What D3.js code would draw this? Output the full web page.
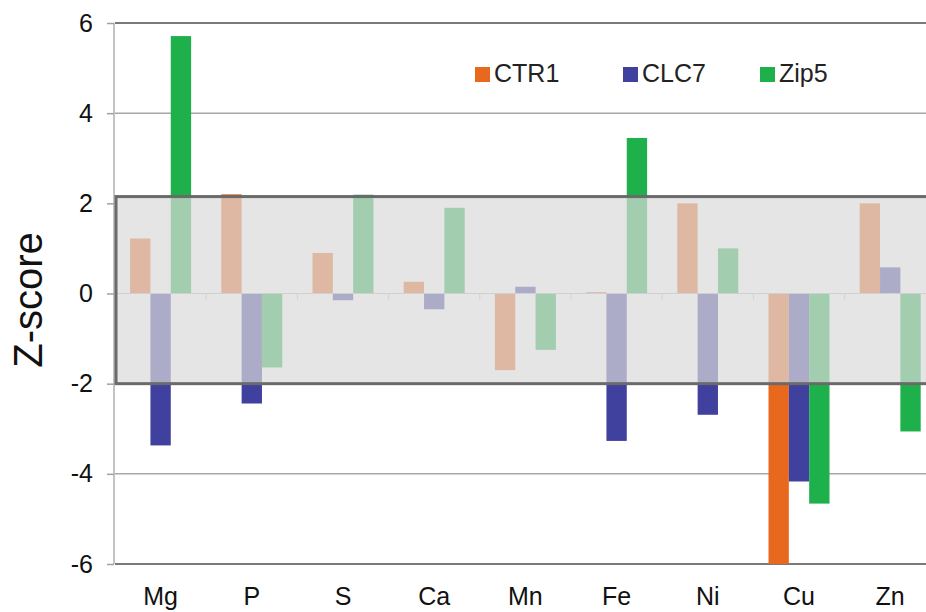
<!DOCTYPE html>
<html>
<head>
<meta charset="utf-8">
<script src="https://cdn.jsdelivr.net/npm/d3@7"></script>
<style>
  html, body { margin: 0; padding: 0; background: #fff; }
  svg { display: block; font-family: Arial, "Liberation Sans", sans-serif; }
</style>
</head>
<body>
<svg id="chart" width="926" height="612"></svg>
<script>
// ---- data ----
const categories = ["Mg", "P", "S", "Ca", "Mn", "Fe", "Ni", "Cu", "Zn"];
const seriesNames = ["CTR1", "CLC7", "Zip5"];
const ctr1 = [1.22, 2.2, 0.9, 0.26, -1.7, 0.03, 2.0, -6.0, 2.0];
const clc7 = [-3.37, -2.44, -0.15, -0.35, 0.15, -3.27, -2.69, -4.17, 0.58];
const zip5 = [5.71, -1.64, 2.19, 1.9, -1.25, 3.45, 1.0, -4.66, -3.06];
const yTicks = [-6, -4, -2, 0, 2, 4, 6];
const thresholdBand = [-2, 2.15];

const seriesValues = [ctr1, clc7, zip5];
const colors = ["#e8681e", "#40409f", "#1eb04b"];

// ---- layout ----
const svg = d3.select("#chart");
const plotLeft = 115, plotTop = 23, plotBottom = 564;
const bandW = 91.2;
const plotRight = plotLeft + bandW * categories.length;

const x = d3.scaleBand().domain(categories).range([plotLeft, plotRight]).padding(0);
const groupW = 61;
const x1 = d3.scaleBand().domain(seriesNames)
  .range([(x.bandwidth() - groupW) / 2, (x.bandwidth() + groupW) / 2]).padding(0);
const y = d3.scaleLinear().domain([-6, 6]).range([plotBottom, plotTop]);

// gridlines at 4 and -4, top and bottom border
const gl = svg.append("g");
yTicks.forEach(t => {
  if (t === 0 || t === 2 || t === -2) return;
  const edge = (t === 6 || t === -6);
  gl.append("line")
    .attr("x1", plotLeft).attr("x2", plotRight)
    .attr("y1", y(t)).attr("y2", y(t))
    .attr("stroke", edge ? "#7a7a7a" : "#a8a8a8")
    .attr("stroke-width", edge ? 2.2 : 1.5);
});

// left axis line
svg.append("line")
  .attr("x1", plotLeft - 1).attr("x2", plotLeft - 1)
  .attr("y1", y(6)).attr("y2", y(-6))
  .attr("stroke", "#b0b0b0").attr("stroke-width", 1.5);

// y ticks
const yAxis = d3.axisLeft(y).tickValues(yTicks).tickSize(7).tickPadding(14)
  .tickFormat(d => String(d));
const ya = svg.append("g").attr("transform", `translate(${plotLeft - 1},0)`).call(yAxis);
ya.select(".domain").remove();
ya.selectAll(".tick line").attr("stroke", "#a0a0a0").attr("stroke-width", 1.5);
ya.selectAll(".tick text")
  .attr("font-size", 25).attr("fill", "#111")
  .attr("font-family", "Arial, 'Liberation Sans', sans-serif");

// bars
const groups = svg.append("g").selectAll("g")
  .data(categories).join("g")
  .attr("transform", d => `translate(${x(d)},0)`);
groups.selectAll("rect")
  .data((d, i) => seriesNames.map((s, j) => ({ s, j, v: seriesValues[j][i] })))
  .join("rect")
  .attr("x", d => x1(d.s))
  .attr("width", x1.bandwidth())
  .attr("y", d => y(Math.max(0, d.v)))
  .attr("height", d => Math.abs(y(d.v) - y(0)))
  .attr("fill", d => colors[d.j]);

// zero axis line with category ticks
svg.append("line")
  .attr("x1", plotLeft).attr("x2", plotRight)
  .attr("y1", y(0)).attr("y2", y(0))
  .attr("stroke", "#b8b8b8").attr("stroke-width", 1);
svg.append("g").selectAll("line")
  .data(categories.slice(1)).join("line")
  .attr("x1", d => x(d)).attr("x2", d => x(d))
  .attr("y1", y(0)).attr("y2", y(0) + 6)
  .attr("stroke", "#c0c0c0").attr("stroke-width", 1);

// translucent threshold band over bars
svg.append("rect")
  .attr("x", plotLeft + 1)
  .attr("y", y(thresholdBand[1]))
  .attr("width", plotRight - plotLeft)
  .attr("height", y(thresholdBand[0]) - y(thresholdBand[1]))
  .attr("fill", "#dadada").attr("fill-opacity", 0.7)
  .attr("stroke", "#6a6a6a").attr("stroke-width", 3);

// x labels
svg.append("g").selectAll("text")
  .data(categories).join("text")
  .attr("x", d => x(d) + x.bandwidth() / 2)
  .attr("y", 605)
  .attr("text-anchor", "middle")
  .attr("font-size", 25).attr("fill", "#111")
  .text(d => d);

// y label
svg.append("text")
  .attr("transform", "translate(42,300) rotate(-90)")
  .attr("text-anchor", "middle")
  .attr("font-size", 40).attr("fill", "#111")
  .text("Z-score");

// legend
const legendX = [475, 623, 760];
const lg = svg.append("g").selectAll("g")
  .data(seriesNames).join("g")
  .attr("transform", (d, i) => `translate(${legendX[i]},67)`);
lg.append("rect").attr("width", 15).attr("height", 15)
  .attr("fill", (d, i) => colors[i]);
lg.append("text").attr("x", 19).attr("y", 15)
  .attr("font-size", 25).attr("fill", "#222")
  .text(d => d);
</script>
</body>
</html>
